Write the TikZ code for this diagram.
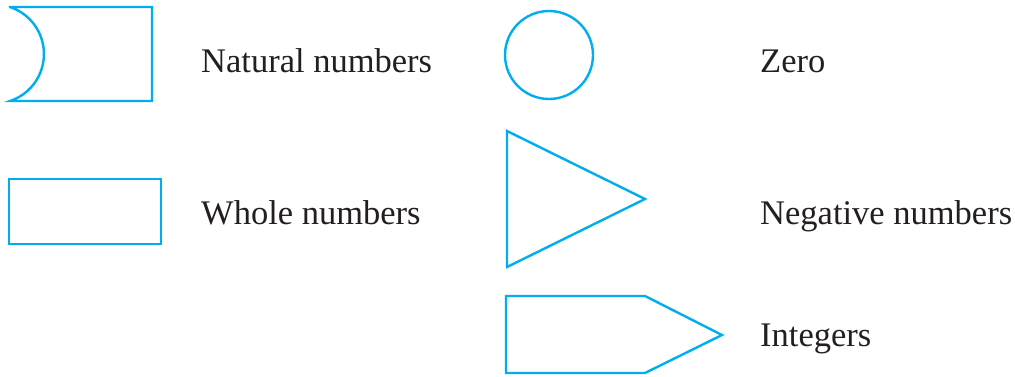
\documentclass[tikz,border=0pt]{standalone}
\usepackage{fontspec}
\setmainfont{Liberation Serif}
\definecolor{shapecyan}{HTML}{00AEEF}
\definecolor{txt}{HTML}{231F20}
\tikzset{
  shapeline/.style={draw=shapecyan, line width=2.4pt, line join=miter},
  label/.style={anchor=base west, inner sep=0pt, text=txt, font=\fontsize{34.5}{40}\selectfont}
}
\begin{document}
\begin{tikzpicture}[x=1pt,y=1pt]
\useasboundingbox (0,0) rectangle (1015,-376);
% Natural numbers shape
\coordinate (nat) at (10,-7);
\draw[shapeline] (nat) -- (152,-7) -- (152,-101) -- (10,-101) arc[start angle=-71.7, end angle=71.7, radius=49.5] -- cycle;
% Whole numbers rectangle
\draw[shapeline] (9,-179) rectangle (161,-244);
% Zero circle
\draw[shapeline] (549,-55) circle[radius=44];
% Negative numbers triangle
\draw[shapeline] (507,-131) -- (645,-199) -- (507,-267) -- cycle;
% Integers pentagon
\draw[shapeline] (506,-296) -- (645,-296) -- (722,-335) -- (645,-373) -- (506,-373) -- cycle;
% labels
\node[label] (tnat) at (201,-72.5) {Natural numbers};
\node[label] (twhole) at (201,-224) {Whole numbers};
\node[label] (tzero) at (760,-72.5) {Zero};
\node[label] (tneg) at (760,-224) {Negative numbers};
\node[label] (tint) at (760,-346.5) {Integers};
\end{tikzpicture}
\end{document}
